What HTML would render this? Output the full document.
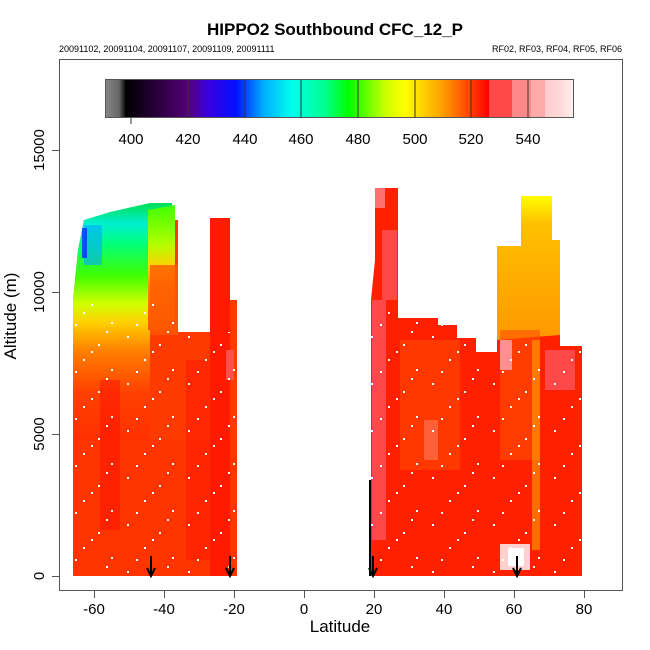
<!DOCTYPE html>
<html><head><style>body{margin:0;background:#fff}svg{display:block}text{font-family:"Liberation Sans",sans-serif}</style></head><body>
<svg width="650" height="650" viewBox="0 0 650 650" xmlns="http://www.w3.org/2000/svg">
<defs>
<linearGradient id="cb" x1="105" x2="573" y1="0" y2="0" gradientUnits="userSpaceOnUse">
<stop offset="0" stop-color="#888"/><stop offset="0.03" stop-color="#666"/><stop offset="0.04" stop-color="#222"/><stop offset="0.045" stop-color="#000"/>
<stop offset="0.18" stop-color="#55007a"/><stop offset="0.22" stop-color="#3a00e0"/><stop offset="0.28" stop-color="#0010ff"/>
<stop offset="0.34" stop-color="#00b0ff"/><stop offset="0.40" stop-color="#00ffee"/><stop offset="0.47" stop-color="#00ff90"/>
<stop offset="0.52" stop-color="#00ff00"/><stop offset="0.60" stop-color="#ccff00"/><stop offset="0.64" stop-color="#ffff00"/>
<stop offset="0.72" stop-color="#ffa000"/><stop offset="0.78" stop-color="#ff4000"/><stop offset="0.82" stop-color="#ff0000"/>
<stop offset="0.82" stop-color="#ff4848"/><stop offset="0.87" stop-color="#ff4848"/><stop offset="0.87" stop-color="#ff8888"/><stop offset="0.91" stop-color="#ff8888"/>
<stop offset="0.91" stop-color="#ffaaaa"/><stop offset="0.94" stop-color="#ffaaaa"/><stop offset="0.94" stop-color="#ffcccc"/><stop offset="0.98" stop-color="#ffdddd"/><stop offset="1" stop-color="#fff0f0"/>
</linearGradient>
<linearGradient id="lup" x1="0" x2="0" y1="205" y2="440" gradientUnits="userSpaceOnUse">
<stop offset="0" stop-color="#00e060"/><stop offset="0.08" stop-color="#00f0d0"/><stop offset="0.16" stop-color="#00ff80"/>
<stop offset="0.3" stop-color="#40ff00"/><stop offset="0.42" stop-color="#d0ff00"/><stop offset="0.5" stop-color="#ffd000"/>
<stop offset="0.62" stop-color="#ff8000"/><stop offset="0.8" stop-color="#ff4000"/><stop offset="1" stop-color="#ff3000"/>
</linearGradient>
<linearGradient id="lmid" x1="0" x2="0" y1="205" y2="360" gradientUnits="userSpaceOnUse">
<stop offset="0" stop-color="#40ff00"/><stop offset="0.25" stop-color="#b0ff00"/><stop offset="0.4" stop-color="#ffd000"/><stop offset="0.55" stop-color="#ff8000"/><stop offset="1" stop-color="#ff3000"/>
</linearGradient>
<linearGradient id="rorg" x1="0" x2="0" y1="196" y2="470" gradientUnits="userSpaceOnUse">
<stop offset="0" stop-color="#ffff00"/><stop offset="0.1" stop-color="#ffc000"/><stop offset="0.5" stop-color="#ff9a00"/><stop offset="0.85" stop-color="#ff6000"/><stop offset="1" stop-color="#ff2000"/>
</linearGradient>
<pattern id="dots" width="61" height="47" patternUnits="userSpaceOnUse">
<rect x="5" y="7" width="2" height="2" fill="#fff"/><rect x="37" y="15" width="2" height="2" fill="#fff"/>
<rect x="22" y="30" width="2" height="2" fill="#fff"/><rect x="50" y="40" width="2" height="2" fill="#fff"/>
<rect x="14" y="42" width="2" height="2" fill="#fff"/><rect x="45" y="2" width="2" height="2" fill="#fff"/>
<rect x="30" y="22" width="2" height="2" fill="#fff"/></pattern>
</defs>
<text x="335" y="35" font-size="17" font-weight="bold" text-anchor="middle">HIPPO2 Southbound CFC_12_P</text>
<text x="59" y="52" font-size="9">20091102, 20091104, 20091107, 20091109, 20091111</text>
<text x="622" y="52" font-size="9" text-anchor="end">RF02, RF03, RF04, RF05, RF06</text>
<!-- left block -->
<polygon fill="#ff3a00" points="73,576 73,300 78,250 84,220 178,220 178,332 210,332 210,218 230,218 230,300 237,300 237,576"/>
<polygon fill="url(#lup)" points="73,440 73,300 78,250 84,220 110,212 150,203 172,203 172,330 150,330 150,440"/>
<polygon fill="url(#lmid)" points="148,210 175,205 175,330 148,330"/>
<rect x="150" y="265" width="28" height="70" fill="#ff5a00" opacity="0.8"/>
<rect x="84" y="225" width="18" height="40" fill="#00a8ff" opacity="0.6"/>
<rect x="82" y="228" width="5" height="30" fill="#0030ff" opacity="0.8"/>
<rect x="73" y="440" width="164" height="136" fill="#ff3000" opacity="0.5"/>
<rect x="100" y="380" width="20" height="150" fill="#ff1000" opacity="0.5"/>
<rect x="186" y="360" width="24" height="200" fill="#ff1000" opacity="0.4"/>
<rect x="210" y="218" width="20" height="358" fill="#ff1a00"/>
<rect x="226" y="350" width="8" height="30" fill="#ff5050"/>
<!-- right block -->
<polygon fill="#ff2000" points="371,576 371,300 375,260 375,188 398,188 398,318 438,318 438,325 457,325 457,338 476,338 476,352 497,352 497,246 521,246 521,196 552,196 552,240 560,240 560,346 582,346 582,576"/>
<rect x="372" y="300" width="14" height="240" fill="#ff4848"/>
<rect x="382" y="230" width="15" height="70" fill="#ff4848"/>
<rect x="375" y="188" width="10" height="20" fill="#ff7070"/>
<polygon fill="url(#rorg)" points="497,340 497,246 521,246 521,196 552,196 552,240 560,240 560,335"/>
<rect x="500" y="330" width="40" height="130" fill="#ff5000" opacity="0.6"/>
<rect x="532" y="340" width="8" height="210" fill="#ffa000" opacity="0.6"/>
<rect x="545" y="350" width="30" height="40" fill="#ff4848"/>
<rect x="500" y="340" width="12" height="30" fill="#ff9090"/>
<rect x="424" y="420" width="14" height="40" fill="#ff7070"/>
<rect x="400" y="340" width="60" height="130" fill="#ff5000" opacity="0.5"/>
<rect x="500" y="544" width="30" height="26" fill="#ffd0d0"/>
<rect x="508" y="548" width="16" height="18" fill="#fff"/>
<rect x="369" y="480" width="2" height="96" fill="#000"/>
<!-- dots -->
<polygon fill="url(#dots)" points="73,576 73,300 178,300 178,332 237,332 237,576"/>
<polygon fill="url(#dots)" points="371,576 371,300 398,318 582,346 582,576"/>
<!-- arrows -->
<g stroke="#000" stroke-width="2" fill="none">
<line x1="151" y1="556" x2="151" y2="575"/><polyline points="147,568 151,576 155,568"/>
<line x1="230" y1="556" x2="230" y2="575"/><polyline points="226,568 230,576 234,568"/>
<line x1="373" y1="556" x2="373" y2="575"/><polyline points="369,568 373,576 377,568"/>
<line x1="517" y1="556" x2="517" y2="575"/><polyline points="513,568 517,576 521,568"/>
</g>
<!-- frame -->
<rect x="59.5" y="59.5" width="563" height="531" fill="none" stroke="#555" stroke-width="1"/>
<!-- colorbar -->
<rect x="105.5" y="79.5" width="468" height="38" fill="url(#cb)" stroke="#555"/>
<g stroke="#333" stroke-width="1">
<line x1="131" y1="118" x2="131" y2="124"/>
<line x1="188" y1="80" x2="188" y2="118"/><line x1="245" y1="80" x2="245" y2="118"/><line x1="301" y1="80" x2="301" y2="118"/>
<line x1="358" y1="80" x2="358" y2="118"/><line x1="415" y1="80" x2="415" y2="118"/><line x1="471" y1="80" x2="471" y2="118"/><line x1="528" y1="80" x2="528" y2="118"/>
</g>
<g font-size="15" text-anchor="middle">
<text x="131" y="144">400</text><text x="188" y="144">420</text><text x="245" y="144">440</text><text x="301" y="144">460</text>
<text x="358" y="144">480</text><text x="415" y="144">500</text><text x="471" y="144">520</text><text x="528" y="144">540</text>
</g>
<!-- axes -->
<g stroke="#555" stroke-width="1">
<line x1="52" y1="150.5" x2="59" y2="150.5"/><line x1="52" y1="292.5" x2="59" y2="292.5"/><line x1="52" y1="434.5" x2="59" y2="434.5"/><line x1="52" y1="576.5" x2="59" y2="576.5"/>
<line x1="94.5" y1="591" x2="94.5" y2="598"/><line x1="164.5" y1="591" x2="164.5" y2="598"/><line x1="234.5" y1="591" x2="234.5" y2="598"/><line x1="304.5" y1="591" x2="304.5" y2="598"/>
<line x1="374.5" y1="591" x2="374.5" y2="598"/><line x1="444.5" y1="591" x2="444.5" y2="598"/><line x1="514.5" y1="591" x2="514.5" y2="598"/><line x1="584.5" y1="591" x2="584.5" y2="598"/>
</g>
<g font-size="15" text-anchor="middle">
<text x="94" y="614">-60</text><text x="164" y="614">-40</text><text x="234" y="614">-20</text><text x="304" y="614">0</text>
<text x="374" y="614">20</text><text x="444" y="614">40</text><text x="514" y="614">60</text><text x="584" y="614">80</text>
<text transform="translate(44,150) rotate(-90)">15000</text>
<text transform="translate(44,292) rotate(-90)">10000</text>
<text transform="translate(44,434) rotate(-90)">5000</text>
<text transform="translate(44,576) rotate(-90)">0</text>
</g>
<text x="340" y="632" font-size="17" text-anchor="middle">Latitude</text>
<text transform="translate(16,316) rotate(-90)" font-size="17" text-anchor="middle">Altitude (m)</text>
</svg>
</body></html>
